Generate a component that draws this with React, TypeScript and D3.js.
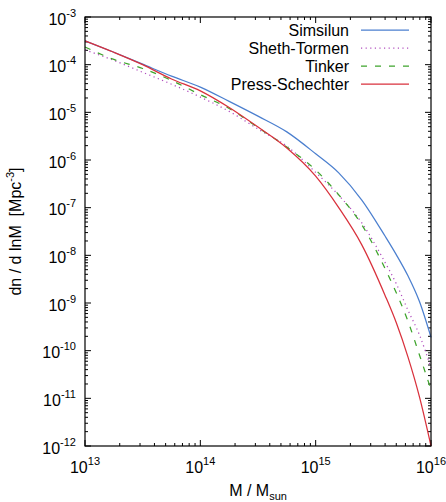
import * as d3 from "d3";
import { useEffect, useRef } from "react";

// log10 of halo mass (M / Msun)
const logMass = [13.0, 13.25, 13.5, 13.75, 14.0, 14.25, 14.5, 14.75, 15.0, 15.2, 15.4, 15.6, 15.7, 15.8, 15.9, 16.0];

// log10 of dn/dlnM [Mpc^-3]
const simsilun = [-3.5, -3.74, -3.99, -4.24, -4.47, -4.77, -5.08, -5.41, -5.87, -6.27, -6.84, -7.59, -7.99, -8.43, -8.97, -9.72];
const shethTormen = [-3.69, -3.91, -4.16, -4.41, -4.68, -4.98, -5.35, -5.71, -6.26, -6.74, -7.32, -8.14, -8.6, -9.15, -9.67, -10.36];
const tinker = [-3.63, -3.89, -4.08, -4.33, -4.63, -4.92, -5.32, -5.73, -6.21, -6.73, -7.36, -8.27, -8.79, -9.38, -10.09, -10.82];
const pressSchechter = [-3.5, -3.74, -4.0, -4.3, -4.55, -4.9, -5.31, -5.75, -6.34, -7.0, -7.78, -8.83, -9.42, -10.13, -10.97, -12.0];

const seriesNames = ["Simsilun", "Sheth-Tormen", "Tinker", "Press-Schechter"];
const seriesValues = [simsilun, shethTormen, tinker, pressSchechter];
const seriesColors = ["#4b7fcf", "#b14fbf", "#3ea42c", "#d9313c"];
const seriesDash = ["none", "1.2,3.4", "6,8", "none"];

const xTickExps = [13, 14, 15, 16];
const yTickExps = [-3, -4, -5, -6, -7, -8, -9, -10, -11, -12];

const FONT = "'Liberation Sans', Arial, Helvetica, sans-serif";

export default function App() {
  const ref = useRef<SVGSVGElement | null>(null);

  useEffect(() => {
    if (!ref.current) return;
    const svg = d3.select(ref.current);
    svg.selectAll("*").remove();

    const left = 85;
    const right = 431;
    const top = 17;
    const bottom = 446;

    const x = d3.scaleLog().domain([1e13, 1e16]).range([left, right]);
    const y = d3.scaleLog().domain([1e-12, 1e-3]).range([bottom, top]);

    const majorLen = 6;
    const minorLen = 3;
    const ticks = svg.append("g").attr("stroke", "#000").attr("stroke-width", 1);

    // x ticks, bottom and top, inward
    for (let e = 13; e <= 16; e++) {
      const xp = x(Math.pow(10, e));
      ticks.append("line").attr("x1", xp).attr("x2", xp).attr("y1", bottom).attr("y2", bottom - majorLen);
      ticks.append("line").attr("x1", xp).attr("x2", xp).attr("y1", top).attr("y2", top + majorLen);
      if (e < 16) {
        for (let k = 2; k <= 9; k++) {
          const xm = x(k * Math.pow(10, e));
          ticks.append("line").attr("x1", xm).attr("x2", xm).attr("y1", bottom).attr("y2", bottom - minorLen);
          ticks.append("line").attr("x1", xm).attr("x2", xm).attr("y1", top).attr("y2", top + minorLen);
        }
      }
    }
    // y ticks, left and right, inward
    for (let e = -12; e <= -3; e++) {
      const yp = y(Math.pow(10, e));
      ticks.append("line").attr("x1", left).attr("x2", left + majorLen).attr("y1", yp).attr("y2", yp);
      ticks.append("line").attr("x1", right).attr("x2", right - majorLen).attr("y1", yp).attr("y2", yp);
      if (e < -3) {
        for (let k = 2; k <= 9; k++) {
          const ym = y(k * Math.pow(10, e));
          ticks.append("line").attr("x1", left).attr("x2", left + minorLen).attr("y1", ym).attr("y2", ym);
          ticks.append("line").attr("x1", right).attr("x2", right - minorLen).attr("y1", ym).attr("y2", ym);
        }
      }
    }

    // curves
    const line = d3
      .line<number>()
      .x((_d, i) => x(Math.pow(10, logMass[i])))
      .y((d) => y(Math.pow(10, d)))
      .curve(d3.curveMonotoneX);

    const plot = svg.append("g");
    seriesValues.forEach((vals, i) => {
      plot
        .append("path")
        .attr("d", line(vals))
        .attr("fill", "none")
        .attr("stroke", seriesColors[i])
        .attr("stroke-width", 1.25)
        .attr("stroke-dasharray", seriesDash[i]);
    });

    // frame
    svg
      .append("rect")
      .attr("x", left)
      .attr("y", top)
      .attr("width", right - left)
      .attr("height", bottom - top)
      .attr("fill", "none")
      .attr("stroke", "#000")
      .attr("stroke-width", 1.2);

    // tick labels
    const labels = svg.append("g").attr("font-family", FONT).attr("fill", "#000");
    xTickExps.forEach((e) => {
      const t = labels
        .append("text")
        .attr("x", x(Math.pow(10, e)))
        .attr("y", 473)
        .attr("text-anchor", "middle")
        .attr("font-size", 16);
      t.append("tspan").text("10");
      t.append("tspan").attr("dy", -8).attr("font-size", 11).text(String(e));
    });
    yTickExps.forEach((e) => {
      const t = labels
        .append("text")
        .attr("x", 76)
        .attr("y", y(Math.pow(10, e)) + 7.5)
        .attr("text-anchor", "end")
        .attr("font-size", 16);
      t.append("tspan").text("10");
      t.append("tspan").attr("dy", -8).attr("font-size", 11).text(String(e));
    });

    // axis titles
    const xt = labels
      .append("text")
      .attr("x", 258)
      .attr("y", 496)
      .attr("text-anchor", "middle")
      .attr("font-size", 16);
    xt.append("tspan").text("M / M");
    xt.append("tspan").attr("dy", 4).attr("font-size", 11).text("sun");

    const yt = labels
      .append("text")
      .attr("transform", `translate(21,${(top + bottom) / 2}) rotate(-90)`)
      .attr("text-anchor", "middle")
      .attr("font-size", 16);
    yt.append("tspan").text("dn / d lnM\u00a0\u00a0[Mpc");
    yt.append("tspan").attr("dy", -7).attr("font-size", 11).text("-3");
    yt.append("tspan").attr("dy", 7).text("]");

    // legend
    const legend = svg.append("g").attr("font-family", FONT);
    seriesNames.forEach((name, i) => {
      const cy = 30 + i * 18;
      legend
        .append("text")
        .attr("x", 349)
        .attr("y", cy + 5.5)
        .attr("text-anchor", "end")
        .attr("font-size", 16)
        .text(name);
      legend
        .append("line")
        .attr("x1", 361)
        .attr("x2", 409)
        .attr("y1", cy)
        .attr("y2", cy)
        .attr("stroke", seriesColors[i])
        .attr("stroke-width", 1.25)
        .attr("stroke-dasharray", seriesDash[i]);
    });
  }, []);

  return (
    <svg
      ref={ref}
      width={446}
      height={502}
      style={{ position: "absolute", left: 0, top: 0, background: "#fff" }}
    />
  );
}
